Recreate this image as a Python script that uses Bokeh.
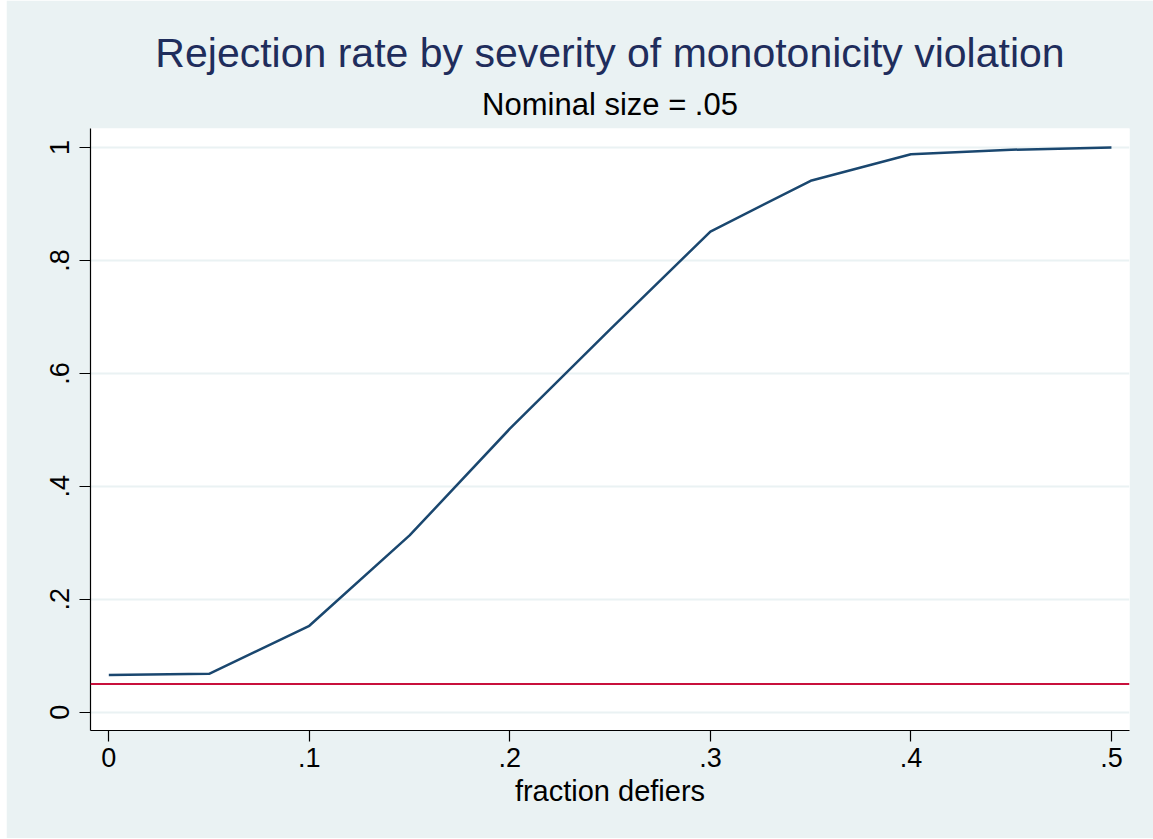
from bokeh.plotting import figure
from bokeh.layouts import row
from bokeh.models import Title, FixedTicker, Range1d, Span, ColumnDataSource, Spacer
from bokeh.embed import file_html
from bokeh.resources import INLINE

# ---- data ----
fraction_defiers = [0.0, 0.05, 0.10, 0.15, 0.20, 0.25, 0.30, 0.35, 0.40, 0.45, 0.50]
rejection_rate = [0.066, 0.068, 0.153, 0.313, 0.502, 0.678, 0.851, 0.941, 0.988, 0.996, 1.0]
nominal_size = 0.05

x_ticks = [0.0, 0.1, 0.2, 0.3, 0.4, 0.5]
x_tick_labels = ["0", ".1", ".2", ".3", ".4", ".5"]
y_ticks = [0.0, 0.2, 0.4, 0.6, 0.8, 1.0]
y_tick_labels = ["0", ".2", ".4", ".6", ".8", "1"]

title_text = "Rejection rate by severity of monotonicity violation"
subtitle_text = "Nominal size = .05"
x_label = "fraction defiers"

# ---- style ----
BG = "#EAF2F3"
NAVY = "#1a476f"
RED = "#c8103c"
FONT = "Liberation Sans"

p = figure(width=1147, height=838, output_backend="svg", toolbar_location=None,
           x_range=Range1d(-0.00913, 0.509), y_range=Range1d(-0.0324, 1.0336),
           min_border_left=84, min_border_right=24, min_border_top=128,
           min_border_bottom=108)

p.background_fill_color = "white"
p.border_fill_color = BG
p.outline_line_color = None

src = ColumnDataSource(dict(x=fraction_defiers, y=rejection_rate))
p.add_layout(Span(location=nominal_size, dimension="width", line_color=RED, line_width=2))
p.line("x", "y", source=src, line_color=NAVY, line_width=2.5)

# axes
for ax in (p.xaxis[0], p.yaxis[0]):
    ax.axis_line_color = "black"
    ax.axis_line_width = 1.2
    ax.major_tick_line_color = "black"
    ax.major_tick_line_width = 1.2
    ax.major_tick_out = 11
    ax.major_tick_in = 0
    ax.minor_tick_line_color = None
    ax.major_label_text_font = FONT
    ax.major_label_text_font_size = "27px"
    ax.major_label_text_color = "black"

p.xaxis[0].ticker = FixedTicker(ticks=x_ticks)
p.xaxis[0].major_label_overrides = dict(zip(x_ticks, x_tick_labels))
p.xaxis[0].major_label_standoff = 6
p.xaxis[0].axis_label = x_label
p.xaxis[0].axis_label_text_font = FONT
p.xaxis[0].axis_label_text_font_size = "29px"
p.xaxis[0].axis_label_text_font_style = "normal"
p.xaxis[0].axis_label_text_color = "black"
p.xaxis[0].axis_label_standoff = 5

p.yaxis[0].ticker = FixedTicker(ticks=y_ticks)
p.yaxis[0].major_label_overrides = dict(zip(y_ticks, y_tick_labels))
p.yaxis[0].major_label_orientation = "vertical"
p.yaxis[0].major_label_standoff = 10

p.xgrid.grid_line_color = None
p.ygrid.ticker = FixedTicker(ticks=y_ticks)
p.ygrid.grid_line_color = BG
p.ygrid.grid_line_width = 2

# titles
p.add_layout(Title(text=subtitle_text, align="center", text_font=FONT,
                   text_font_size="31px", text_font_style="normal",
                   text_color="black", standoff=13), "above")
p.add_layout(Title(text=title_text, align="center", text_font=FONT,
                   text_font_size="41px", text_font_style="normal",
                   text_color="#1f2d5c", standoff=6), "above")

layout = row(Spacer(width=6, height=838), p)
open("out.html", "w").write(file_html(layout, INLINE))
